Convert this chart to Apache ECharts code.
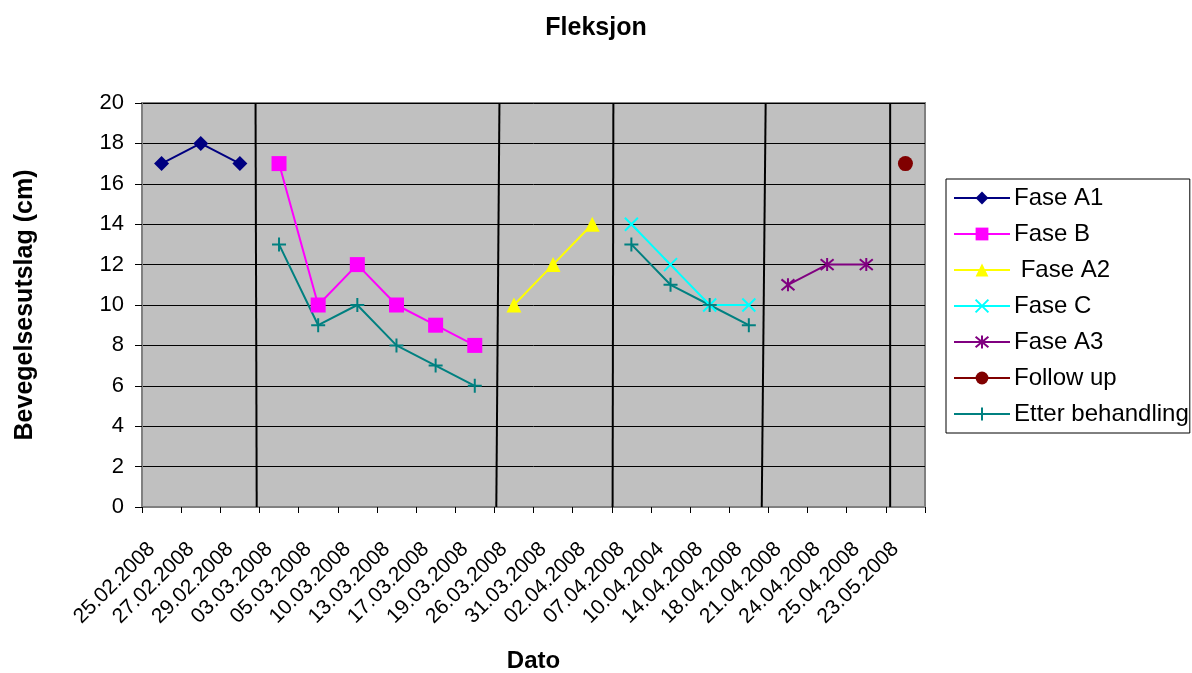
<!DOCTYPE html>
<html>
<head>
<meta charset="utf-8">
<title>Fleksjon</title>
<script src="https://cdn.jsdelivr.net/npm/echarts@6/dist/echarts.min.js"></script>
<style>
  html, body { margin: 0; padding: 0; background: #fff; }
  #chart { width: 1192px; height: 673px; }
</style>
</head>
<body>
<div id="chart"></div>
<script>
// Measurement dates (x categories)
const dates = [
  '25.02.2008', '27.02.2008', '29.02.2008', '03.03.2008', '05.03.2008',
  '10.03.2008', '13.03.2008', '17.03.2008', '19.03.2008', '26.03.2008',
  '31.03.2008', '02.04.2008', '07.04.2008', '10.04.2004', '14.04.2008',
  '18.04.2008', '21.04.2008', '24.04.2008', '25.04.2008', '23.05.2008'
];

// Range of motion (cm) per phase; null where the phase has no measurement
const faseA1 = [17, 18, 17, null, null, null, null, null, null, null, null, null, null, null, null, null, null, null, null, null];
const faseB = [null, null, null, 17, 10, 12, 10, 9, 8, null, null, null, null, null, null, null, null, null, null, null];
const faseA2 = [null, null, null, null, null, null, null, null, null, 10, 12, 14, null, null, null, null, null, null, null, null];
const faseC = [null, null, null, null, null, null, null, null, null, null, null, null, 14, 12, 10, 10, null, null, null, null];
const faseA3 = [null, null, null, null, null, null, null, null, null, null, null, null, null, null, null, null, 11, 12, 12, null];
const followUp = [null, null, null, null, null, null, null, null, null, null, null, null, null, null, null, null, null, null, null, 17];
const etterBehandling = [null, null, null, 13, 9, 10, 8, 7, 6, null, null, null, 13, 11, 10, 9, null, null, null, null];

// Phase boundaries in category units: [position at top (20), position at bottom (0)]
const phaseBreaks = [[2.90, 2.93], [9.13, 9.05], [12.04, 12.02], [15.93, 15.83], [19.11, 19.11]];

// Y axis range
const yMin = 0, yMax = 20, yStep = 2;

const FONT = "'Liberation Sans', Arial, sans-serif";

const crossPath = 'path://M0,0L10,10M10,0L0,10';
const plusPath = 'path://M5,0L5,10M0,5L10,5';
const starPath = 'path://M0,0L10,10M10,0L0,10M5,-1L5,11';

function phaseSeries(name, data, color, symbol, size, stroked) {
  return {
    name: name,
    type: 'line',
    data: data,
    symbol: symbol,
    symbolSize: size,
    showAllSymbol: true,
    connectNulls: false,
    lineStyle: { color: color, width: 2 },
    itemStyle: stroked
      ? { color: color, borderColor: color, borderWidth: 2 }
      : { color: color, borderWidth: 0 },
    emphasis: { disabled: true },
    z: 3
  };
}

const series = [
  phaseSeries('Fase A1', faseA1, '#000080', 'diamond', 15, false),
  phaseSeries('Fase B', faseB, '#FF00FF', 'rect', 15, false),
  phaseSeries(' Fase A2', faseA2, '#FFFF00', 'triangle', 15, false),
  phaseSeries('Fase C', faseC, '#00FFFF', crossPath, 13, true),
  phaseSeries('Fase A3', faseA3, '#800080', starPath, 13, true),
  phaseSeries('Follow up', followUp, '#800000', 'circle', 15, false),
  phaseSeries('Etter behandling', etterBehandling, '#008080', plusPath, 14, true)
];

// Vertical phase separator lines on a hidden value x axis spanning the categories
phaseBreaks.forEach(function (b, i) {
  series.push({
    name: 'sep' + i,
    type: 'line',
    xAxisIndex: 1,
    data: [[b[0], yMax], [b[1], yMin]],
    symbol: 'none',
    lineStyle: { color: '#000', width: 2 },
    emphasis: { disabled: true },
    silent: true,
    z: 2
  });
});

const chart = echarts.init(document.getElementById('chart'), null, { renderer: 'canvas' });

chart.setOption({
  animation: false,
  backgroundColor: '#fff',
  title: {
    text: 'Fleksjon',
    left: 'center',
    top: 11,
    textStyle: { fontFamily: FONT, fontSize: 25, fontWeight: 'bold', color: '#000' }
  },
  legend: {
    data: ['Fase A1', 'Fase B', ' Fase A2', 'Fase C', 'Fase A3', 'Follow up', 'Etter behandling'],
    orient: 'vertical',
    left: 946,
    top: 179,
    padding: [7, 1, 7, 7],
    itemWidth: 56,
    itemHeight: 16,
    itemGap: 12,
    backgroundColor: '#fff',
    borderColor: '#000',
    borderWidth: 1,
    borderRadius: 0,
    selectedMode: false,
    textStyle: { fontFamily: FONT, fontSize: 24, color: '#000', lineHeight: 24, padding: [0, 0, 0, -1] }
  },
  grid: {
    left: 142,
    top: 103,
    width: 783,
    height: 404,
    show: true,
    backgroundColor: '#C0C0C0',
    borderColor: '#808080',
    borderWidth: 2,
    containLabel: false,
    outerBoundsMode: 'none'
  },
  xAxis: [
    {
      type: 'category',
      data: dates,
      boundaryGap: true,
      name: 'Dato',
      nameLocation: 'middle',
      nameGap: 142,
      nameTextStyle: { fontFamily: FONT, fontSize: 24, fontWeight: 'bold', color: '#000' },
      axisLine: { show: true, lineStyle: { color: '#808080', width: 2 } },
      axisTick: { show: true, length: 6, inside: false, lineStyle: { color: '#000', width: 1 } },
      axisLabel: {
        rotate: 45,
        margin: 29,
        interval: 0,
        padding: [0, 14, 0, 0],
        fontFamily: FONT,
        fontSize: 21,
        color: '#000'
      },
      splitLine: { show: false }
    },
    {
      type: 'value',
      min: 0,
      max: dates.length,
      show: false
    }
  ],
  yAxis: {
    type: 'value',
    min: yMin,
    max: yMax,
    interval: yStep,
    name: 'Bevegelsesutslag (cm)',
    nameLocation: 'middle',
    nameGap: 104,
    nameTextStyle: { fontFamily: FONT, fontSize: 25, fontWeight: 'bold', color: '#000' },
    axisLine: { show: true, lineStyle: { color: '#808080', width: 2 } },
    axisTick: { show: true, length: 7, inside: false, lineStyle: { color: '#000', width: 1 } },
    axisLabel: { margin: 18, fontFamily: FONT, fontSize: 22, color: '#000' },
    splitLine: { show: true, lineStyle: { color: '#000', width: 1 } }
  },
  series: series
});
</script>
</body>
</html>
